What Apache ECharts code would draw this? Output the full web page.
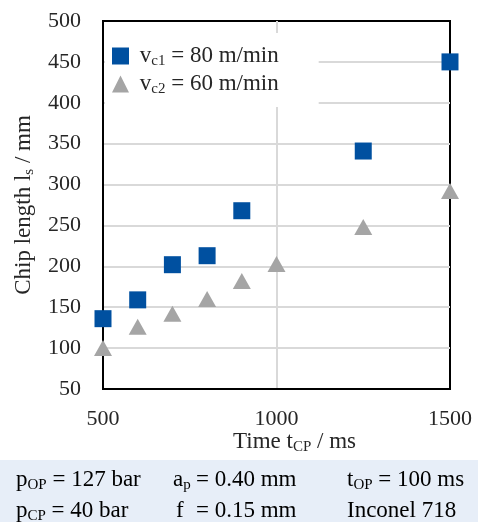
<!DOCTYPE html>
<html>
<head>
<meta charset="utf-8">
<script src="https://cdn.jsdelivr.net/npm/echarts@6/dist/echarts.min.js"></script>
<style>
  html, body { margin: 0; padding: 0; background: #fff; }
  #chart { width: 478px; height: 522px; }
</style>
</head>
<body>
<div id="chart"></div>
<script>
// chip length over cutting-pause time
const timeVc1 = [500, 600, 700, 800, 900, 1250, 1500];
const chipVc1 = [136, 159, 202, 213, 268, 341, 450];
const timeVc2 = [500, 600, 700, 800, 900, 1000, 1250, 1500];
const chipVc2 = [100, 126, 142, 160, 182, 203, 248, 292];

const FONT = 'Liberation Serif';
const TXT = '#262626';

// rich text styles, s = subscript
const rich = {
  m: { fontFamily: FONT, fontSize: 23, color: TXT, lineHeight: 26 },
  s: { fontFamily: FONT, fontSize: 15, color: TXT, lineHeight: 15, padding: [11, 0, 0, 0] }
};

const chart = echarts.init(document.getElementById('chart'), null, { renderer: 'canvas' });

// one cell of the parameter panel under the chart
function cell(x, y, text) {
  return {
    type: 'text', z: 10,
    style: { x: x, y: y, text: text, rich: rich, verticalAlign: 'middle' }
  };
}

const option = {
  animation: false,
  grid: {
    left: 103, right: 28, top: 21, bottom: 133,
    show: true, borderColor: '#000', borderWidth: 2
  },
  legend: {
    orient: 'vertical',
    left: 105, top: 33,
    padding: [10, 40, 10, 7],
    itemGap: 2,
    itemWidth: 17, itemHeight: 17,
    backgroundColor: '#fff',
    data: [
      { name: 'vc1', icon: 'rect' },
      { name: 'vc2', icon: 'triangle' }
    ],
    formatter: function (n) {
      return n === 'vc1' ? '{m| v}{s|c1}{m| = 80 m/min}' : '{m| v}{s|c2}{m| = 60 m/min}';
    },
    textStyle: { rich: rich }
  },
  xAxis: {
    type: 'value',
    min: 500, max: 1500, interval: 500,
    name: '{m|Time t}{s|CP}{m| / ms}',
    nameLocation: 'middle',
    nameGap: 40,
    nameMoveOverlap: false,
    nameTextStyle: { rich: rich, padding: [0, 0, 0, 36] },
    axisLine: { lineStyle: { color: '#000', width: 2 } },
    axisTick: { show: false },
    axisLabel: { fontFamily: FONT, fontSize: 22, color: TXT, margin: 19, formatter: v => String(v) },
    splitLine: { showMinLine: false, showMaxLine: false, lineStyle: { color: '#d9d9d9', width: 2 } }
  },
  yAxis: {
    type: 'value',
    min: 50, max: 500, interval: 50,
    name: '{m|Chip length l}{s|s}{m| / mm}',
    nameLocation: 'middle',
    nameGap: 66,
    nameTextStyle: { rich: rich },
    axisLine: { show: true, lineStyle: { color: '#000', width: 2 } },
    axisTick: { show: false },
    axisLabel: { fontFamily: FONT, fontSize: 22, color: TXT, margin: 22 },
    splitLine: { showMinLine: false, showMaxLine: false, lineStyle: { color: '#d9d9d9', width: 2 } }
  },
  series: [
    {
      name: 'vc2',
      type: 'scatter',
      symbol: 'triangle',
      symbolSize: [18, 16],
      clip: false,
      itemStyle: { color: '#a5a5a5', opacity: 1 },
      data: timeVc2.map((t, i) => [t, chipVc2[i]])
    },
    {
      name: 'vc1',
      type: 'scatter',
      symbol: 'rect',
      symbolSize: 17,
      clip: false,
      itemStyle: { color: '#0050a0', opacity: 1 },
      data: timeVc1.map((t, i) => [t, chipVc1[i]])
    }
  ],
  graphic: [
    {
      type: 'rect', left: 0, top: 460, z: 1,
      shape: { width: 478, height: 62 },
      style: { fill: '#e7eef8' }
    },
    cell(16, 480, '{m|p}{s|OP}{m| = 127 bar}'),
    cell(16, 511, '{m|p}{s|CP}{m| = 40 bar}'),
    cell(173, 480, '{m|a}{s|p}'),
    cell(176, 511, '{m|f}'),
    cell(196, 480, '{m|= 0.40 mm}'),
    cell(196, 511, '{m|= 0.15 mm}'),
    cell(347, 480, '{m|t}{s|OP}{m| = 100 ms}'),
    cell(347, 511, '{m|Inconel 718}')
  ]
};

chart.setOption(option);
</script>
</body>
</html>
